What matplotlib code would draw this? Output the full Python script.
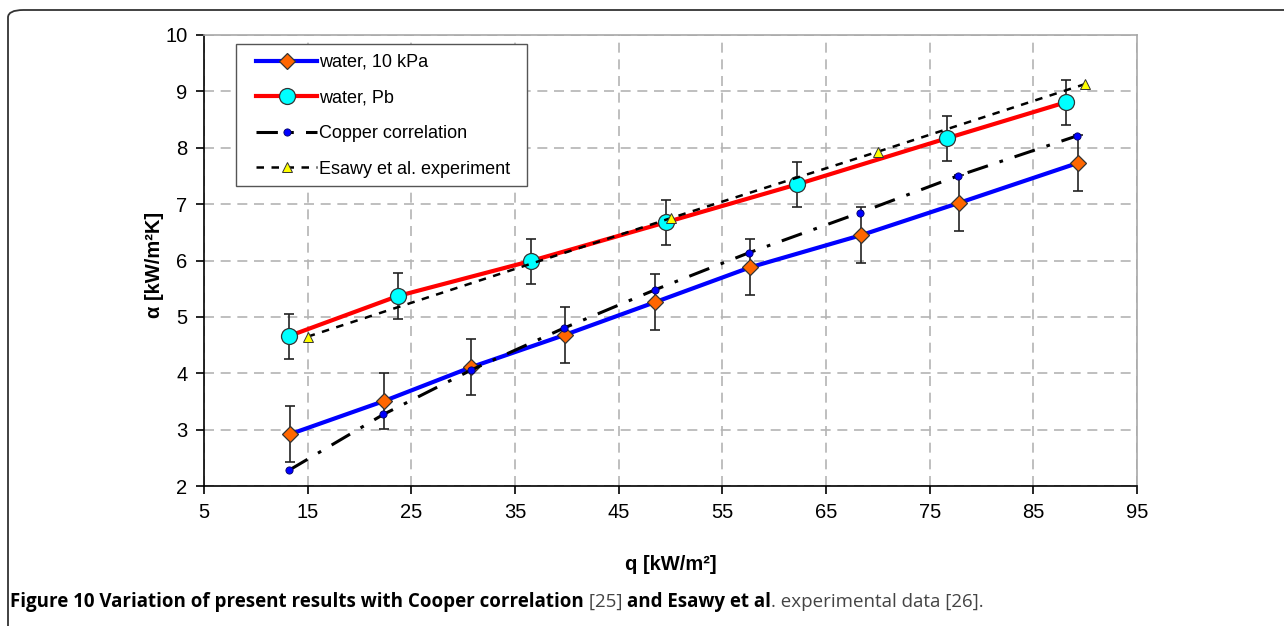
import numpy as np
import matplotlib
matplotlib.use('Agg')
import matplotlib.pyplot as plt
from matplotlib.patches import FancyBboxPatch, Rectangle

plt.rcParams['font.family'] = ['Liberation Sans', 'DejaVu Sans']

# water, 10 kPa
q_10kpa = [13.3, 22.4, 30.8, 39.8, 48.5, 57.7, 68.4, 77.8, 89.3]
a_10kpa = [2.92, 3.51, 4.11, 4.68, 5.26, 5.88, 6.45, 7.02, 7.73]
err_10kpa = 0.5

# water, Pb
q_pb = [13.2, 23.7, 36.5, 49.6, 62.2, 76.7, 88.2]
a_pb = [4.66, 5.37, 5.99, 6.68, 7.35, 8.17, 8.81]
err_pb = 0.4

# Copper correlation
q_cu = [13.2, 22.3, 30.8, 39.7, 48.5, 57.6, 68.3, 77.7, 89.2]
a_cu = [2.28, 3.27, 4.06, 4.80, 5.48, 6.14, 6.85, 7.50, 8.21]

# Esawy et al. experiment
q_es = [15, 50, 70, 90]
a_es = [4.65, 6.75, 7.93, 9.13]

fig = plt.figure(figsize=(12.84, 6.26), dpi=100)
ax = fig.add_axes([0.1589, 0.2236, 0.7266, 0.7205])

ax.errorbar(q_10kpa, a_10kpa, yerr=err_10kpa, fmt='none', ecolor='#222222',
            elinewidth=1.2, capsize=3.5, capthick=1.2, zorder=2)
ax.errorbar(q_pb, a_pb, yerr=err_pb, fmt='none', ecolor='#222222',
            elinewidth=1.2, capsize=3.5, capthick=1.2, zorder=2)

ax.plot(q_10kpa, a_10kpa, color='#0000FF', lw=3, marker='D', ms=8.5,
        mfc='#FF6600', mec='#333333', mew=0.9, label='water, 10 kPa', zorder=4)
ax.plot(q_pb, a_pb, color='#FF0000', lw=3, marker='o', ms=11.5,
        mfc='#00FFFF', mec='#333333', mew=0.9, label='water, Pb', zorder=4)
ax.plot(q_cu, a_cu, color='black', lw=2.2, dashes=(7, 4, 1.2, 4), marker='o',
        ms=5.2, mfc='#0000FF', mec='#000066', mew=0.6,
        label='Copper correlation', zorder=5)
ax.plot(q_es, a_es, color='black', lw=1.8, dashes=(3, 3), marker='^',
        ms=6.5, mfc='#FFFF00', mec='#333333', mew=0.7,
        label='Esawy et al. experiment', zorder=5)

ax.set_xlim(5, 95)
ax.set_ylim(2, 10)
ax.set_xticks(np.arange(5, 96, 10))
ax.set_yticks(np.arange(2, 11, 1))
ax.tick_params(direction='out', length=6, width=1.2, labelsize=14.5, pad=6)
ax.grid(True, color='#B4B4B4', ls=(0, (6, 4)), lw=1.2)
ax.set_axisbelow(True)
for s in ['top', 'right']:
    ax.spines[s].set_color('#A8A8A8')
    ax.spines[s].set_linewidth(1.2)
for s in ['left', 'bottom']:
    ax.spines[s].set_linewidth(1.2)

ax.set_xlabel('q [kW/m\u00b2]', fontsize=14.5, fontweight='bold', labelpad=24)
ax.set_ylabel('\u03b1 [kW/m\u00b2K]', fontsize=14.5, fontweight='bold')
ax.yaxis.set_label_coords(-0.043, 0.49)

# legend box drawn separately so the handles can sit further in
ax.add_patch(Rectangle((0.0343, 0.6652), 0.3119, 0.3149, transform=ax.transAxes,
                       facecolor='white', edgecolor='#555555', lw=1.0, zorder=9))
leg = ax.legend(loc='upper left', bbox_to_anchor=(0.0557, 0.958), borderaxespad=0,
                numpoints=1, fontsize=13, handlelength=3.4, handletextpad=0.1,
                labelspacing=1.03, borderpad=0, frameon=False)
leg.set_zorder(10)

# outer frame
frame = FancyBboxPatch((8 / 1284, -0.1), 1.2, 1.1 - 10 / 626,
                       boxstyle='round,pad=0,rounding_size=0.012',
                       transform=fig.transFigure, fill=False,
                       edgecolor='#333333', lw=1.3, clip_on=False)
fig.patches.append(frame)

# caption made of bold and regular runs
cap_parts = [
    ('Figure 10 Variation of present results with Cooper correlation', 'bold', 'black'),
    (' [25] ', 'normal', '#444444'),
    ('and Esawy et al', 'bold', 'black'),
    ('. experimental data [26].', 'normal', '#444444'),
]
fig.canvas.draw()
r = fig.canvas.get_renderer()
x0 = 10 / 1284
for txt, wt, col in cap_parts:
    t = fig.text(x0, 1 - 602 / 626, txt, fontsize=13.5, fontweight=wt, color=col,
                 family=['Open Sans', 'DejaVu Sans'], va='center', ha='left')
    bb = t.get_window_extent(renderer=r)
    x0 += bb.width / fig.bbox.width

fig.savefig('out.png', dpi=100)
